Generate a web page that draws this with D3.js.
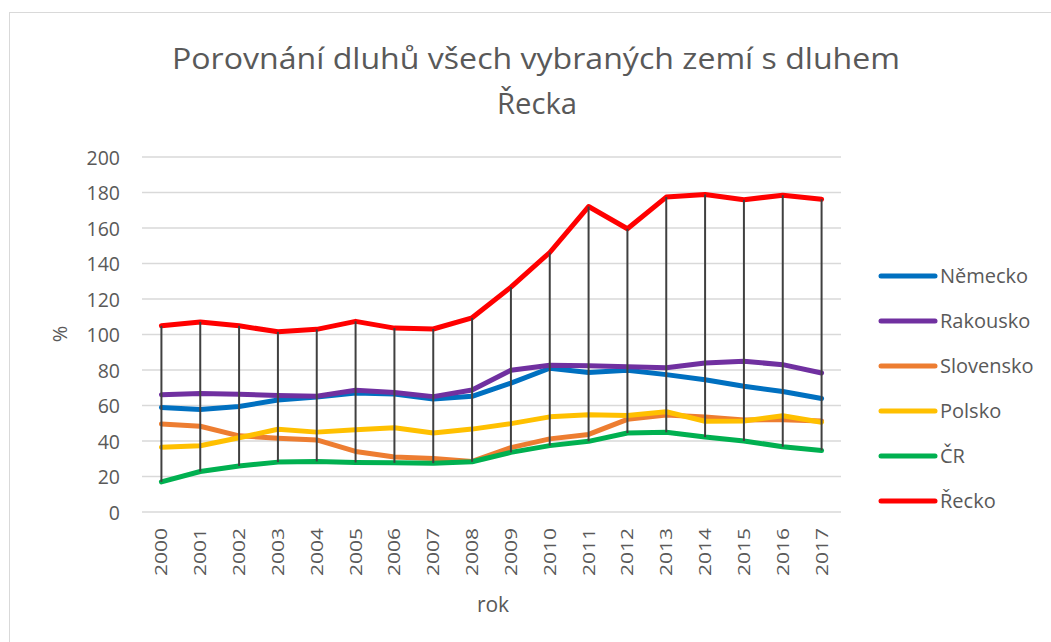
<!DOCTYPE html>
<html>
<head>
<meta charset="utf-8">
<script src="https://cdn.jsdelivr.net/npm/d3@7/dist/d3.min.js"></script>
<style>
  html, body { margin: 0; padding: 0; background: #fff; }
  svg { display: block; }
  text { font-family: "Open Sans", "Noto Sans", sans-serif; fill: #595959; }
</style>
</head>
<body>
<script>
const years = ["2000","2001","2002","2003","2004","2005","2006","2007","2008","2009","2010","2011","2012","2013","2014","2015","2016","2017"];
const seriesNames = ["Německo","Rakousko","Slovensko","Polsko","ČR","Řecko"];
const seriesColors = ["#0070C0","#7030A0","#ED7D31","#FFC000","#00B050","#FF0000"];
const nemecko   = [58.9, 57.7, 59.4, 63.1, 64.8, 67.0, 66.5, 63.7, 65.2, 72.6, 81.0, 78.6, 79.8, 77.4, 74.5, 70.8, 67.9, 63.9];
const rakousko  = [66.1, 66.8, 66.3, 65.7, 65.2, 68.6, 67.3, 65.0, 68.7, 79.9, 82.7, 82.4, 81.9, 81.3, 84.0, 84.9, 83.0, 78.3];
const slovensko = [49.6, 48.3, 42.9, 41.6, 40.6, 34.1, 31.0, 30.1, 28.5, 36.3, 41.2, 43.7, 52.2, 54.7, 53.5, 51.9, 52.0, 51.3];
const polsko    = [36.5, 37.3, 41.8, 46.6, 45.0, 46.4, 47.5, 44.5, 46.7, 49.8, 53.6, 54.8, 54.4, 56.5, 51.1, 51.3, 54.2, 50.6];
const cr        = [17.0, 22.8, 25.9, 28.1, 28.5, 27.9, 27.7, 27.5, 28.3, 33.6, 37.4, 39.8, 44.5, 44.9, 42.2, 40.0, 36.8, 34.7];
const recko     = [104.9, 107.1, 104.9, 101.5, 102.9, 107.4, 103.6, 103.1, 109.4, 126.7, 146.2, 172.1, 159.6, 177.4, 178.9, 175.9, 178.5, 176.2];
const yTicks = [0, 20, 40, 60, 80, 100, 120, 140, 160, 180, 200];
const titleLines = ["Porovnání dluhů všech vybraných zemí s dluhem", "Řecka"];
const yLabel = "%";
const xLabel = "rok";

const seriesValues = [nemecko, rakousko, slovensko, polsko, cr, recko];

const W = 1051, H = 642;
const svg = d3.select("body").append("svg").attr("width", W).attr("height", H);

// chart border
svg.append("rect").attr("x", 9.5).attr("y", 12.5).attr("width", 1200).attr("height", 800)
  .attr("fill", "none").attr("stroke", "#d9d9d9").attr("stroke-width", 1);

const plot = { left: 142, right: 841, top: 157, bottom: 512 };

const x = d3.scaleBand().domain(years).range([plot.left, plot.right]);
const y = d3.scaleLinear().domain([0, 200]).range([plot.bottom, plot.top]);
const cx = d => x(d) + x.bandwidth() / 2;

// title
const t = svg.append("text").attr("text-anchor", "middle").style("font-size", "29px");
t.append("tspan").attr("x", 536).attr("y", 69).text(titleLines[0])
  .attr("textLength", 728).attr("lengthAdjust", "spacingAndGlyphs");
t.append("tspan").attr("x", 537).attr("y", 114).text(titleLines[1])
  .attr("textLength", 80).attr("lengthAdjust", "spacingAndGlyphs");

// gridlines
svg.append("g").selectAll("line").data(yTicks).join("line")
  .attr("x1", plot.left).attr("x2", plot.right)
  .attr("y1", d => y(d)).attr("y2", d => y(d))
  .attr("stroke", "#d9d9d9").attr("stroke-width", 1.5);

// y axis labels
const yAxis = d3.axisLeft(y).tickValues(yTicks).tickSize(0).tickPadding(0);
const gy = svg.append("g").attr("transform", `translate(120,0)`).call(yAxis);
gy.select(".domain").remove();
gy.selectAll("text").style("font-size", "19.5px").attr("fill", "#595959")
  .style("font-family", '"Open Sans", sans-serif').attr("dy", "0.36em");

// x axis labels (rotated)
const gx = svg.append("g");
gx.selectAll("text").data(years).join("text")
  .attr("transform", d => `translate(${cx(d) + 6},528) rotate(-90)`)
  .attr("text-anchor", "end")
  .style("font-size", "17px")
  .attr("textLength", 48).attr("lengthAdjust", "spacingAndGlyphs")
  .text(d => d);

// axis titles
svg.append("text").attr("transform", "translate(67,334) rotate(-90)")
  .attr("text-anchor", "middle").style("font-size", "20px").text(yLabel);
svg.append("text").attr("x", 493).attr("y", 612)
  .attr("text-anchor", "middle").style("font-size", "21px").text(xLabel);

// series lines
const line = d3.line().x((d, i) => cx(years[i])).y(d => y(d));
svg.append("g").selectAll("path").data(seriesValues).join("path")
  .attr("d", d => line(d))
  .attr("fill", "none")
  .attr("stroke", (d, i) => seriesColors[i])
  .attr("stroke-width", 5)
  .attr("stroke-linejoin", "round")
  .attr("stroke-linecap", "round");

// drop (high-low) lines
svg.append("g").selectAll("line").data(years).join("line")
  .attr("x1", d => cx(d)).attr("x2", d => cx(d))
  .attr("y1", (d, i) => y(d3.max(seriesValues, s => s[i])))
  .attr("y2", (d, i) => y(d3.min(seriesValues, s => s[i])))
  .attr("stroke", "#404040").attr("stroke-width", 2);

// legend
const lg = svg.append("g");
const legY = [276, 321, 366, 411, 456, 501];
seriesNames.forEach((name, i) => {
  lg.append("line").attr("x1", 881).attr("x2", 935)
    .attr("y1", legY[i]).attr("y2", legY[i])
    .attr("stroke", seriesColors[i]).attr("stroke-width", 5).attr("stroke-linecap", "round");
  lg.append("text").attr("x", 940).attr("y", legY[i]).attr("dy", "0.36em")
    .style("font-size", "20px").text(name);
});
</script>
</body>
</html>
